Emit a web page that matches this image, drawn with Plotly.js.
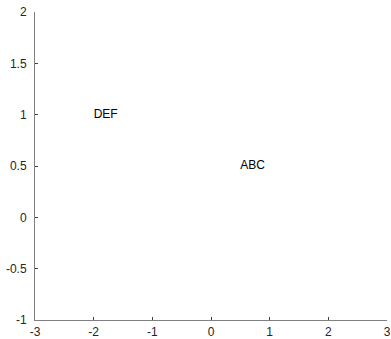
<!DOCTYPE html>
<html><head><meta charset="utf-8">
<script src="https://cdn.plot.ly/plotly-3.0.1.min.js"></script>
<style>html,body{margin:0;padding:0;background:#fff}#c{width:391px;height:339px}</style>
</head><body><div id="c"></div>
<script>
const labels = ["ABC", "DEF"];
const xs = [0.5, -2];
const ys = [0.5, 1];
const xTicks = [-3, -2, -1, 0, 1, 2, 3];
const yTicks = [-1, -0.5, 0, 0.5, 1, 1.5, 2];

const FONT = "Liberation Sans, Arial, sans-serif";
const trace = {
  x: xs, y: ys, text: labels, mode: "text", type: "scatter",
  textposition: "middle right",
  textfont: {family: FONT, size: 12, color: "#000"},
  hoverinfo: "none", cliponaxis: false
};
const axisCommon = {
  showgrid: false, zeroline: false, showline: true, linecolor: "#808080", linewidth: 1,
  ticks: "inside", ticklen: 3, tickcolor: "#404040", tickwidth: 1,
  tickfont: {family: FONT, size: 12, color: "#262626"},
  tickmode: "array", fixedrange: true
};
const layout = {
  width: 391, height: 339,
  margin: {l: 35, r: 4, t: 12, b: 19, pad: 0},
  paper_bgcolor: "#fff", plot_bgcolor: "#fff",
  showlegend: false,
  xaxis: Object.assign({}, axisCommon, {range: [-3, 3], tickvals: xTicks, ticktext: xTicks.map(String), ticklabelstandoff: 1}),
  yaxis: Object.assign({}, axisCommon, {range: [-1, 2], tickvals: yTicks, ticktext: yTicks.map(String), ticklabelstandoff: 5})
};
Plotly.newPlot("c", [trace], layout, {staticPlot: true, displayModeBar: false});
</script></body></html>
